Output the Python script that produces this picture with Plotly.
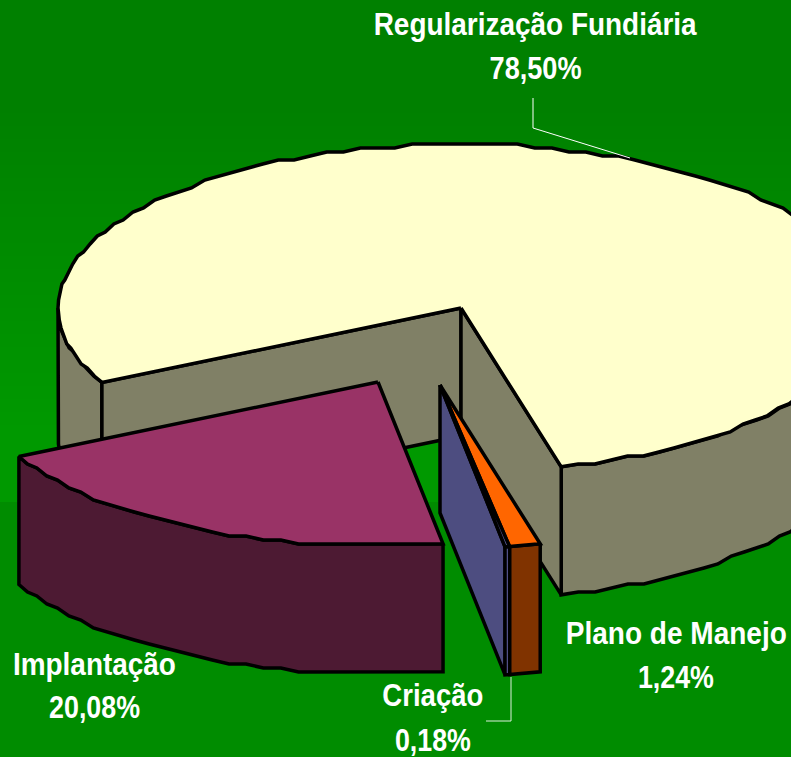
import json
import numpy as np
import plotly.graph_objects as go

categories = ["Regularização Fundiária", "Plano de Manejo", "Criação", "Implantação"]
values = [78.50, 1.24, 0.18, 20.08]
value_labels = ["78,50%", "1,24%", "0,18%", "20,08%"]
top_colors = ["#FFFFCC", "#FF6600", "#6666AA", "#993366"]
side_colors = ["#808066", "#803300", "#4D4D80", "#4D1A33"]
apex_xs = [461, 440, 440, 378]
apex_ys = [308, 385, 385, 382]

RX, RY, DEPTH, START = 403, 164, 128, 243.0
W, H = 791, 757
OUT = dict(color="black", width=3.5)
fig = go.Figure()

def arc(cx, cy, a0, a1):
    span = abs(a1 - a0)
    n = max(2, int(span / 2.5) + 1)
    t = np.radians(np.linspace(a0, a1, n))
    x = cx + RX * np.sin(t)
    y = cy - RY * np.cos(t)
    if n > 3:
        # the reference's outline is a coarse, stepped rendering of the ellipse
        y[1:-1] = np.round(y[1:-1] / 4) * 4
    return x, y

def poly(xs, ys, color):
    xs = list(xs) + [xs[0]]
    ys = list(ys) + [ys[0]]
    fig.add_trace(go.Scatter(x=xs, y=ys, mode="lines", fill="toself", fillcolor=color,
                             line=OUT, hoverinfo="skip", showlegend=False))

def outer_wall(cx, cy, a0, a1, color):
    x, y = arc(cx, cy, a0, a1)
    poly(list(x) + list(x[::-1]), list(y) + list(y[::-1] + DEPTH), color)

def planar_wall(cx, cy, a, color):
    x, y = arc(cx, cy, a, a + 1e-6)
    poly([cx, x[0], x[0], cx], [cy, y[0], y[0] + DEPTH, cy + DEPTH], color)

def top(cx, cy, a0, a1, color):
    x, y = arc(cx, cy, a0, a1)
    poly([cx] + list(x), [cy] + list(y), color)

edges = START + np.concatenate([[0], np.cumsum(values)]) * 3.6

# Regularização
a0, a1 = edges[0], edges[1]
cx, cy = apex_xs[0], apex_ys[0]
outer_wall(cx, cy, a0, 270, side_colors[0])
outer_wall(cx, cy, 450, a1, side_colors[0])
planar_wall(cx, cy, a0, side_colors[0])
planar_wall(cx, cy, a1, side_colors[0])
top(cx, cy, a0, a1, top_colors[0])

# Implantação
a0, a1 = edges[3], edges[4]
cx, cy = apex_xs[3], apex_ys[3]
outer_wall(cx, cy, a0 - 360, a1 - 360, side_colors[3])
top(cx, cy, a0, a1, top_colors[3])

# Plano de Manejo
a0, a1 = edges[1], edges[2]
cx, cy = apex_xs[1], apex_ys[1]
outer_wall(cx, cy, a0, a1, side_colors[1])
top(cx, cy, a0, a1, top_colors[1])

# Criação
a0, a1 = edges[2], edges[3]
cx, cy = apex_xs[2], apex_ys[2]
planar_wall(cx, cy, a1, side_colors[2])
outer_wall(cx, cy, a0, a1, top_colors[2])
top(cx, cy, a0, a1, top_colors[2])

# leader lines
fig.add_trace(go.Scatter(x=[533, 533, 630], y=[98, 128, 158], mode="lines",
                         line=dict(color="white", width=1), hoverinfo="skip", showlegend=False))
fig.add_trace(go.Scatter(x=[511, 511, 486], y=[677, 721, 721], mode="lines",
                         line=dict(color="#DDEEDD", width=1), hoverinfo="skip", showlegend=False))

label_pos = [(535, 24, 68), (676, 633, 677), (433, 695, 740), (94, 664, 707)]
label_widths = [(323, 92), (221, 76), (101, 76), (163, 91)]
fit = {}
for cat, val, (lx, y1, y2), (w1, w2) in zip(categories, value_labels, label_pos, label_widths):
    for txt, yy, wd in ((cat, y1, w1), (val, y2, w2)):
        fit[txt] = wd
        fig.add_annotation(x=lx, y=yy, text=txt, showarrow=False,
                           xanchor="center", yanchor="middle",
                           font=dict(family="Liberation Sans", size=31, color="white", weight="bold"))

shapes = []
for g in range(128, 154):
    y0 = 100 + (g - 128) * 13
    y1 = 502 if g == 153 else y0 + 14
    shapes.append(dict(type="rect", xref="x", yref="y", x0=0, x1=W, y0=y0, y1=y1,
                       fillcolor=f"rgb(0,{g},0)", line_width=0, layer="below"))
shapes.append(dict(type="rect", xref="x", yref="y", x0=0, x1=W, y0=502, y1=H,
                   fillcolor="#008C00", line_width=0, layer="below"))

fig.update_layout(width=W, height=H, margin=dict(l=0, r=0, t=0, b=0),
                  paper_bgcolor="#008000", plot_bgcolor="rgba(0,0,0,0)", shapes=shapes,
                  xaxis=dict(range=[0, W], visible=False, fixedrange=True),
                  yaxis=dict(range=[H, 0], visible=False, fixedrange=True))

post = """
document.body.style.margin='0';document.body.style.overflow='hidden';
var fit=%s;
document.querySelectorAll('.annotation-text').forEach(function(t){
  var w=fit[t.textContent];
  if(w){t.setAttribute('textLength',w);t.setAttribute('lengthAdjust','spacingAndGlyphs');}
});
""" % json.dumps(fit, ensure_ascii=False)
fig.write_html("out.html", config={"displayModeBar": False}, post_script=post)
